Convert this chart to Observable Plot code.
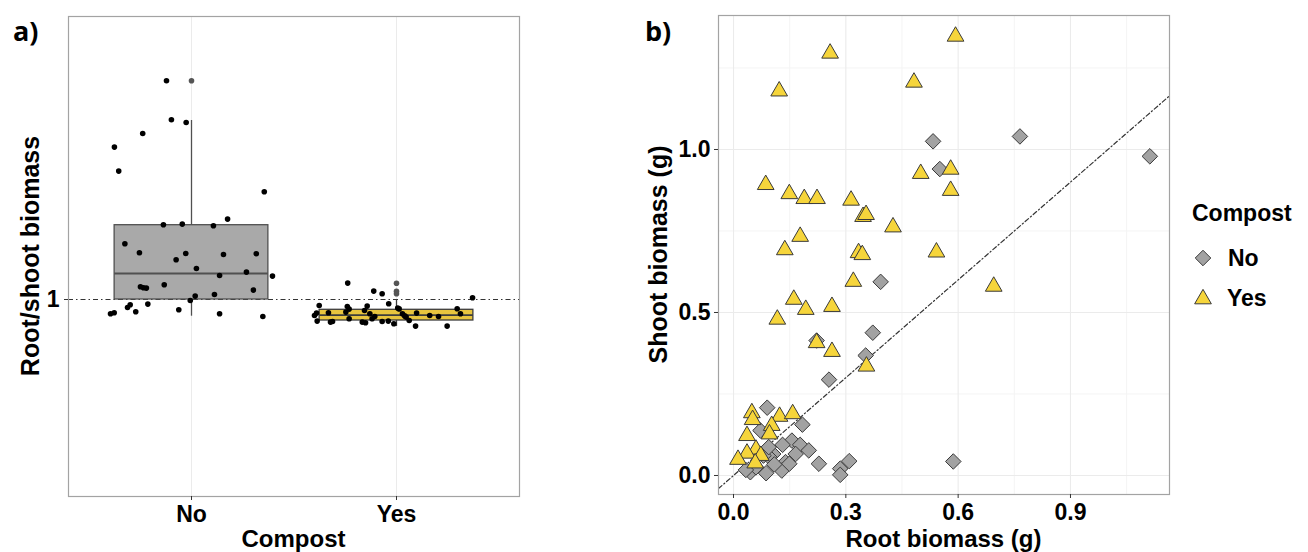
<!DOCTYPE html>
<html><head><meta charset="utf-8">
<script src="https://cdn.jsdelivr.net/npm/d3@7"></script>
<script src="https://cdn.jsdelivr.net/npm/@observablehq/plot@0.6"></script>
<style>
body{margin:0;background:#fff;}
#wrap{position:relative;width:1308px;height:552px;overflow:hidden;font-family:"Liberation Sans",Arial,sans-serif;}
#wrap svg{position:absolute;top:0;}
</style></head><body><div id="wrap"></div>
<script>
// ---------- data ----------
const compostLevels = ["No", "Yes"];

// panel a: root/shoot ratio, jittered points
const noJitter = [-0.122,-0.098,-0.026,-0.238,-0.376,-0.355,0.355,0.176,-0.137,-0.045,0.107,-0.325,-0.254,-0.028,0.156,0.316,-0.075,0.024,0.268,0.137,0.395,-0.249,-0.234,-0.220,-0.133,0.302,0.112,0.018,-0.006,-0.213,-0.299,-0.312,-0.272,-0.062,-0.395,-0.377,0.137,0.348];
const noRatio = [2.094,1.899,1.885,1.830,1.762,1.642,1.539,1.402,1.374,1.377,1.369,1.279,1.234,1.230,1.225,1.229,1.199,1.155,1.137,1.120,1.117,1.064,1.059,1.057,1.074,1.047,1.025,1.017,0.995,0.977,0.974,0.960,0.939,0.949,0.929,0.934,0.929,0.915];
const yesJitter = [-0.238,-0.111,-0.070,0.371,-0.038,-0.377,0.006,-0.240,-0.143,-0.390,-0.332,-0.247,-0.231,-0.156,-0.130,-0.106,-0.119,0.029,0.047,0.098,0.062,0.162,0.205,0.296,0.312,-0.387,-0.400,-0.312,-0.322,-0.231,-0.167,-0.151,-0.070,-0.040,-0.013,0.093,0.247,0.013,0.040];
const yesRatio = [1.082,1.042,1.029,1.009,0.979,0.970,0.957,0.965,0.967,0.932,0.934,0.937,0.952,0.945,0.929,0.915,0.904,0.929,0.912,0.932,0.895,0.920,0.915,0.954,0.929,0.892,0.920,0.890,0.887,0.904,0.887,0.884,0.890,0.892,0.879,0.867,0.867,0.953,0.918];

// panel a: box statistics
const boxQ1 = [1.000, 0.895];
const boxMedian = [1.130, 0.9215];
const boxQ3 = [1.3715, 0.9485];
const whiskerLow = [0.9165, 0.865];
const whiskerHigh = [1.895, 0.9985];
const boxFill = ["#a9a9a9", "#e8c53e"];
const boxStroke = ["#505050", "#3d3d3d"];
const outlierGroup = ["No", "Yes", "Yes", "Yes"];
const outlierRatio = [2.0935, 1.0815, 1.0415, 1.0285];
const ratioTicks = [1];

// panel b: root vs shoot biomass
const noRoot = [0.533,0.765,1.112,0.551,0.393,0.222,0.372,0.353,0.255,0.090,0.184,0.072,0.156,0.131,0.178,0.201,0.106,0.166,0.139,0.096,0.228,0.309,0.285,0.285,0.587,0.045,0.087,0.129,0.109,0.080,0.060,0.033,0.094,0.149];
const noShoot = [1.025,1.040,0.979,0.940,0.594,0.414,0.438,0.368,0.294,0.208,0.156,0.138,0.107,0.094,0.094,0.077,0.066,0.066,0.041,0.056,0.036,0.044,0.021,0.002,0.043,0.010,0.007,0.015,0.034,0.061,0.025,0.017,0.087,0.036];
const yesRoot = [0.593,0.258,0.122,0.482,0.086,0.149,0.189,0.223,0.314,0.500,0.580,0.580,0.346,0.354,0.426,0.178,0.137,0.334,0.344,0.542,0.320,0.695,0.161,0.193,0.263,0.117,0.222,0.263,0.355,0.049,0.051,0.123,0.158,0.102,0.096,0.036,0.060,0.036,0.073,0.012,0.058];
const yesShoot = [1.347,1.295,1.179,1.206,0.892,0.864,0.849,0.849,0.844,0.926,0.939,0.874,0.794,0.800,0.762,0.733,0.692,0.683,0.677,0.685,0.595,0.580,0.540,0.509,0.518,0.479,0.407,0.380,0.335,0.192,0.171,0.181,0.189,0.153,0.127,0.122,0.080,0.068,0.061,0.049,0.038];
const rootTicks = [0, 0.3, 0.6, 0.9];
const rootMinor = [0.15, 0.45, 0.75, 1.05];
const shootTicks = [0, 0.5, 1.0];
const shootMinor = [0.25, 0.75, 1.25];
const rootDomain = [-0.0401, 1.1645];
const shootDomain = [-0.0583, 1.411];

// ---------- build ----------
const FONT = '"Liberation Sans", Arial, sans-serif';
const wrap = document.getElementById("wrap");
const boxHalf = 0.375;
const posOf = c => compostLevels.indexOf(c) + 1;

const boxes = compostLevels.map((c, i) => ({
  c, x: i + 1, q1: boxQ1[i], med: boxMedian[i], q3: boxQ3[i],
  lo: whiskerLow[i], hi: whiskerHigh[i], fill: boxFill[i], stroke: boxStroke[i]
}));
const ptsA = [
  ...noRatio.map((v, i) => ({x: posOf("No") + noJitter[i], y: v})),
  ...yesRatio.map((v, i) => ({x: posOf("Yes") + yesJitter[i], y: v}))
];
const outliers = outlierRatio.map((v, i) => ({x: posOf(outlierGroup[i]), y: v}));

const plotA = Plot.plot({
  width: 540, height: 552,
  marginLeft: 68, marginRight: 21, marginTop: 16, marginBottom: 56,
  style: {fontFamily: FONT, fontSize: "23px", fontWeight: "bold", color: "#000", background: "transparent", overflow: "visible"},
  x: {domain: [0.4, 2.6]},
  y: {domain: [0.015, 2.415]},
  marks: [
    Plot.ruleX(boxes, {x: "x", stroke: "#ebebeb", strokeWidth: 1}),
    Plot.ruleY(ratioTicks, {y: d => d, stroke: "#333", strokeWidth: 1.1, strokeDasharray: "5,3,1.5,3"}),
    Plot.ruleX(boxes, {x: "x", y1: "q3", y2: "hi", stroke: "stroke", strokeWidth: 1.3}),
    Plot.ruleX(boxes, {x: "x", y1: "lo", y2: "q1", stroke: "stroke", strokeWidth: 1.3}),
    Plot.rect(boxes, {x1: d => d.x - boxHalf, x2: d => d.x + boxHalf, y1: "q1", y2: "q3", fill: "fill", stroke: "stroke", strokeWidth: 1.3}),
    Plot.ruleY(boxes, {y: "med", x1: d => d.x - boxHalf, x2: d => d.x + boxHalf, stroke: "stroke", strokeWidth: 1.8}),
    Plot.dot(outliers, {x: "x", y: "y", r: 2.8, fill: "#555", stroke: "none"}),
    Plot.dot(ptsA, {x: "x", y: "y", r: 2.8, fill: "#000", stroke: "none"}),
    Plot.frame({stroke: "#a3a3a3", strokeWidth: 1.2}),
    Plot.axisX([1, 2], {tickFormat: d => compostLevels[d - 1], tickSize: 4, tickPadding: 5, stroke: "#333", label: null}),
    Plot.axisY(ratioTicks, {tickFormat: d => String(d), tickSize: 4, tickPadding: 5, stroke: "#333", label: null})
  ]
});
plotA.style.left = "0px";
wrap.appendChild(plotA);

const ptsNo = noRoot.map((r, i) => ({x: r, y: noShoot[i]}));
const ptsYes = yesRoot.map((r, i) => ({x: r, y: yesShoot[i]}));

const plotB = Plot.plot({
  width: 748, height: 552,
  marginLeft: 158, marginRight: 139, marginTop: 15, marginBottom: 58,
  style: {fontFamily: FONT, fontSize: "23px", fontWeight: "bold", color: "#000", background: "transparent", overflow: "visible"},
  x: {domain: rootDomain},
  y: {domain: shootDomain},
  marks: [
    Plot.ruleX(rootMinor, {x: d => d, stroke: "#f4f4f4", strokeWidth: 1}),
    Plot.ruleY(shootMinor, {y: d => d, stroke: "#f4f4f4", strokeWidth: 1}),
    Plot.ruleX(rootTicks, {x: d => d, stroke: "#ebebeb", strokeWidth: 1.1}),
    Plot.ruleY(shootTicks, {y: d => d, stroke: "#ebebeb", strokeWidth: 1.1}),
    Plot.line(rootDomain, {x: d => d, y: d => d, stroke: "#333", strokeWidth: 1.2, strokeDasharray: "4.5,2.5,1.2,2.5", clip: true}),
    Plot.dot(ptsNo, {x: "x", y: "y", symbol: "diamond2", r: 7, fill: "#a2a2a2", stroke: "#3a3a3a", strokeWidth: 1}),
    Plot.dot(ptsYes, {x: "x", y: "y", symbol: "triangle", r: 6.2, fill: "#f6d53b", stroke: "#3a3a3a", strokeWidth: 1}),
    Plot.frame({stroke: "#a3a3a3", strokeWidth: 1.2}),
    Plot.axisX(rootTicks, {tickFormat: d3.format(".1f"), tickSize: 4, tickPadding: 5, stroke: "#333", label: null}),
    Plot.axisY(shootTicks, {tickFormat: d3.format(".1f"), tickSize: 4, tickPadding: 4, stroke: "#333", label: null})
  ]
});
plotB.style.left = "560px";
wrap.appendChild(plotB);

// ---------- titles & legend overlay ----------
const NS = "http://www.w3.org/2000/svg";
const ov = document.createElementNS(NS, "svg");
ov.setAttribute("width", 1308); ov.setAttribute("height", 552);
ov.style.left = "0px"; ov.style.pointerEvents = "none";
wrap.appendChild(ov);
function txt(s, x, y, opts = {}) {
  const t = document.createElementNS(NS, "text");
  t.textContent = s;
  t.setAttribute("x", x); t.setAttribute("y", y);
  t.setAttribute("font-family", opts.family || FONT);
  t.setAttribute("font-size", opts.size || 25);
  t.setAttribute("font-weight", "bold");
  t.setAttribute("fill", "#000");
  if (opts.anchor) t.setAttribute("text-anchor", opts.anchor);
  if (opts.rotate) t.setAttribute("transform", `rotate(-90 ${x} ${y})`);
  ov.appendChild(t);
}
txt("a)", 13, 41, {family: '"Open Sans", sans-serif', size: 27});
txt("b)", 645, 41, {family: '"Open Sans", sans-serif', size: 27});
txt("Compost", 293.5, 546.5, {anchor: "middle", size: 24});
txt("Root/shoot biomass", 39, 256, {anchor: "middle", rotate: true});
txt("Root biomass (g)", 943.5, 546.5, {anchor: "middle", size: 24});
txt("Shoot biomass (g)", 667, 254.5, {anchor: "middle", rotate: true});
// legend
txt("Compost", 1192, 221, {size: 23});
txt("No", 1228, 266, {size: 23});
txt("Yes", 1227, 306, {size: 23});
function key(type, r, cx, cy, fill) {
  const p = document.createElementNS(NS, "path");
  p.setAttribute("d", d3.symbol(type, Math.PI * r * r)());
  p.setAttribute("transform", `translate(${cx},${cy})`);
  p.setAttribute("fill", fill); p.setAttribute("stroke", "#3a3a3a"); p.setAttribute("stroke-width", 1);
  ov.appendChild(p);
}
key(d3.symbolDiamond2, 7, 1203, 258, "#a2a2a2");
key(d3.symbolTriangle, 6.2, 1203, 299, "#f6d53b");
</script></body></html>
